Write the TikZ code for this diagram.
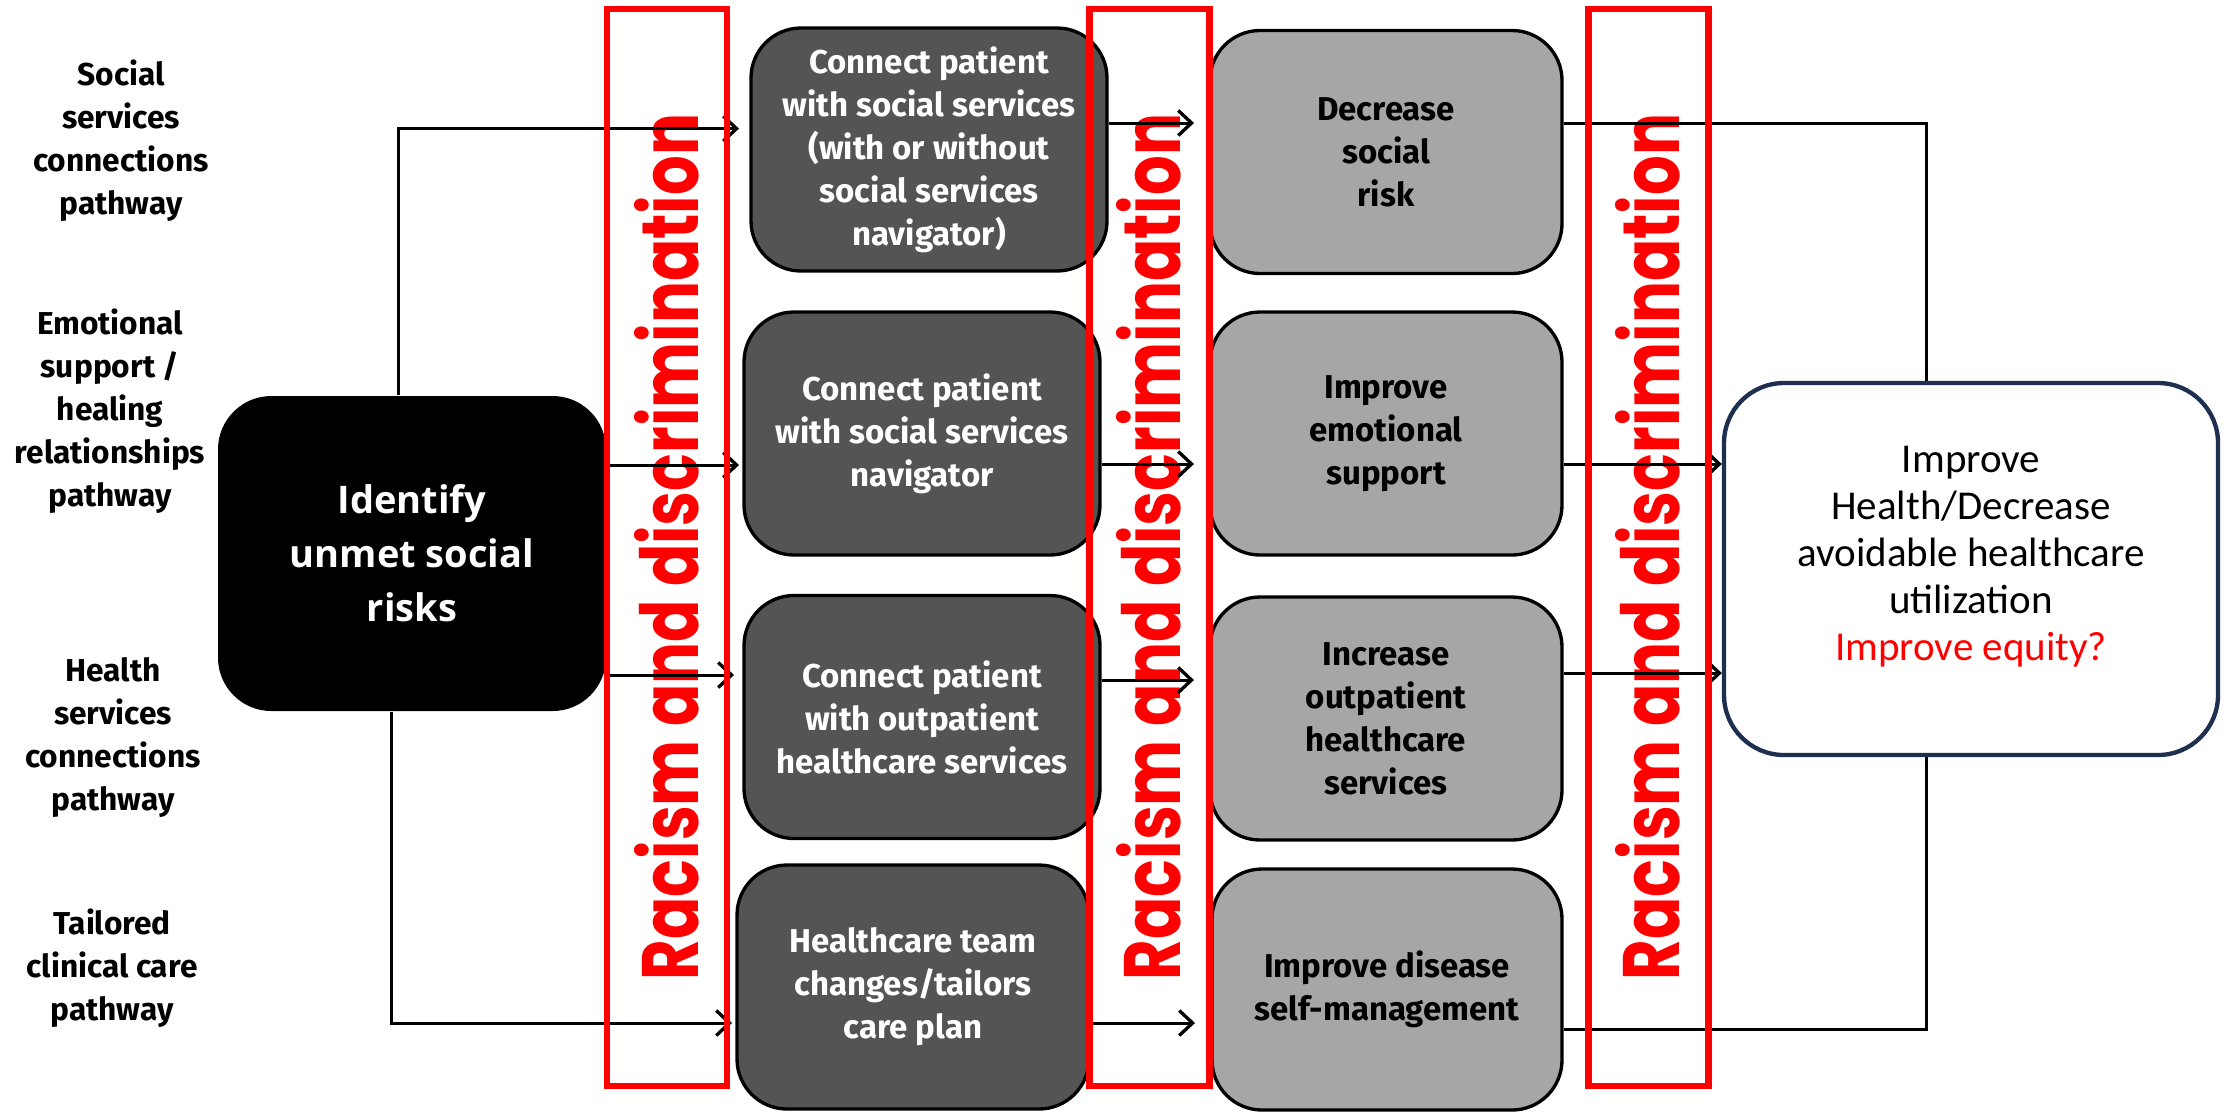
\documentclass[tikz,border=0pt]{standalone}
\usepackage{fontspec}
\setmainfont{Fira Sans}
\newfontfamily\condf{Fira Sans}
\newfontfamily\racf{Poppins}[FakeStretch=0.78]
\newfontfamily\calf{Carlito}
\newfontfamily\opf{Open Sans}
\usetikzlibrary{arrows.meta}
\definecolor{darkbox}{HTML}{545454}
\definecolor{greybox}{HTML}{A6A6A6}
\definecolor{navy}{HTML}{1F2F4F}
\definecolor{redc}{HTML}{FF0000}
\begin{document}
\begin{tikzpicture}[x=0.3pt,y=-0.3pt,
  lbl/.style={font=\condf\bfseries\fontsize{9.5}{12.9}\selectfont, align=center, inner sep=0pt},
  darkb/.style={draw=black, line width=1pt, fill=darkbox, rounded corners=15pt, text=white,
    font=\condf\bfseries\fontsize{9.9}{12.9}\selectfont, align=center, inner sep=0pt,
    minimum width=106.8pt, minimum height=72.9pt},
  greyb/.style={darkb, fill=greybox, text=black},
  idbox/.style={fill=black, rounded corners=16pt, text=white, align=center, inner sep=0pt,
    font=\opf\bfseries\fontsize{11.4}{16.2}\selectfont, minimum width=116.4pt, minimum height=94.5pt},
  finalb/.style={draw=navy, line width=1.3pt, fill=white, rounded corners=18pt, inner sep=0pt,
    minimum width=148.2pt, minimum height=111.6pt},
  fintxt/.style={font=\calf\fontsize{12.3}{14.1}\selectfont, align=center, inner sep=0pt},
  conn/.style={line width=0.9pt},
  arr/.style={conn, -{Straight Barb[length=4pt,width=7.5pt,line width=1pt]}},
  racbox/.style={draw=redc, line width=2pt, minimum width=36pt, minimum height=323.1pt, inner sep=0pt},
  ractext/.style={text=redc, rotate=90, inner sep=0pt, font=\racf\bfseries\fontsize{24}{24}\selectfont}
]
\useasboundingbox (0,0) rectangle (2224,1112);

% left pathway labels
\node[lbl] (l1) at (121,141) {Social\\services\\connections\\pathway};
\node[lbl] (l2) at (110,411) {Emotional\\support /\\healing\\relationships\\pathway};
\node[lbl] (l3) at (113,737) {Health\\services\\connections\\pathway};
\node[lbl] (l4) at (112,968) {Tailored\\clinical care\\pathway};

% identify box
\node[idbox] (id) at (412,553.5) {Identify\\unmet social\\risks};

% interventions
\node[darkb] (c1) at (929,149.5) {Connect patient\\with social services\\(with or without\\social services\\navigator)};
\node[darkb] (c2) at (922,433.5) {Connect patient\\with social services\\navigator};
\node[darkb] (c3) at (922,717) {Connect patient\\with outpatient\\healthcare services};
\node[darkb, minimum width=105.6pt, minimum height=73.2pt] (c4) at (913,987) {Healthcare team\\changes/tailors\\care plan};

% outcomes
\node[greyb, minimum width=105.6pt] (o1) at (1386,152) {Decrease\\social\\risk};
\node[greyb, minimum width=105.6pt] (o2) at (1386,433.5) {Improve\\emotional\\support};
\node[greyb, minimum width=105.6pt] (o3) at (1386,718.5) {Increase\\outpatient\\healthcare\\services};
\node[greyb, minimum width=105pt, minimum height=72.3pt] (o4) at (1387,989.5) {Improve disease\\self-management};

% final outcome
\node[finalb] (fin) at (1971,569) {};
\node[fintxt] (fint) at (1971,557) {Improve\\Health/Decrease\\avoidable healthcare\\utilization\\\textcolor{redc}{Improve equity?}};

% racism texts
\node[ractext] (r1) at (667,547) {Racism and discrimination};
\node[ractext] (r2) at (1149,547) {Racism and discrimination};
\node[ractext] (r3) at (1648,547) {Racism and discrimination};

% connector helper coordinates
\coordinate (v1) at (398,0);
\coordinate (v4) at (391,0);
\coordinate (t1) at (739,128.6);
\coordinate (t2) at (739,465);
\coordinate (t3) at (734,675);
\coordinate (t4) at (732,1023);
\coordinate (m1) at (1194,123);
\coordinate (m2) at (1194,464);
\coordinate (m3) at (1194,680);
\coordinate (m4) at (1195,1023);
\coordinate (h1) at (1926,123);
\coordinate (h4) at (1926,1029);
\coordinate (k2) at (0,464);
\coordinate (k3) at (0,673);

% left connectors
\draw[arr] (id.north -| v1) |- (t1);
\draw[arr] (id.east |- t2) -- (t2);
\draw[arr] (id.east |- t3) -- (t3);
\draw[arr] (id.south -| v4) |- (t4);

% middle connectors
\draw[arr] (c1.east |- m1) -- (m1);
\draw[arr] (c2.east |- m2) -- (m2);
\draw[arr] (c3.east |- m3) -- (m3);
\draw[arr] (c4.east |- m4) -- (m4);

% right connectors
\draw[conn] (o1.east |- h1) -- (h1) -- (fin.north -| h1);
\draw[arr] (o2.east |- k2) -- (fin.west |- k2);
\draw[arr] (o3.east |- k3) -- (fin.west |- k3);
\draw[conn] (o4.east |- h4) -- (h4) -- (fin.south -| h4);

% red barrier boxes
\node[racbox] (rb1) at (667,547.5) {};
\node[racbox] (rb2) at (1149.5,547.5) {};
\node[racbox] (rb3) at (1648.5,547.5) {};
\end{tikzpicture}
\end{document}
